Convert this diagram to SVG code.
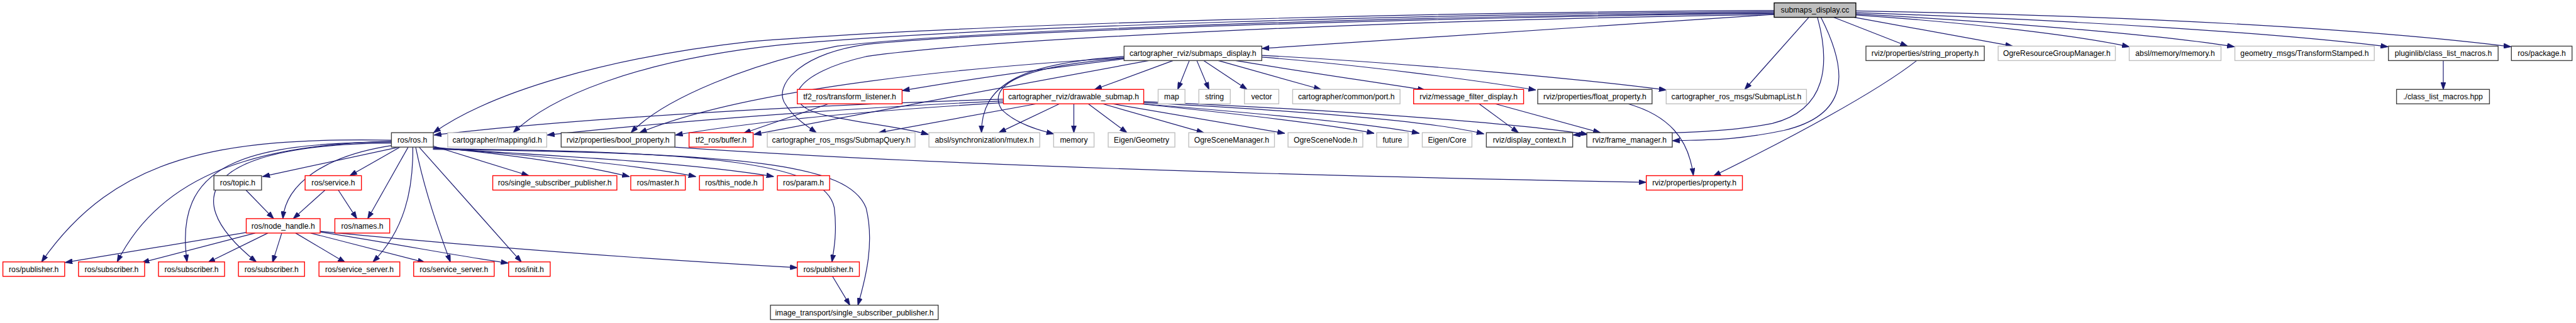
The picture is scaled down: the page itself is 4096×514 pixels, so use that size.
<svg xmlns="http://www.w3.org/2000/svg" width="4096" height="514" viewBox="0 0 4096 514">
<style>
.e path{fill:none;stroke:#191970;stroke-width:1.3;marker-end:url(#ah)}
.n rect{fill:#fff;stroke-width:1.5}
.k rect{stroke:#404040}
.r rect{stroke:#ff0000}
.g rect{stroke:#bfbfbf}
.root rect{fill:#bfbfbf;stroke:#000}
text{font-family:"Liberation Sans",Arial,sans-serif;font-size:13.3px;text-anchor:middle;fill:#000}
</style>
<defs>
<marker id="ah" viewBox="0 0 13 9" refX="12.5" refY="4.5" markerWidth="13" markerHeight="9" orient="auto" markerUnits="userSpaceOnUse"><path d="M0,0 L13,4.5 L0,9 z" fill="#191970" stroke="#191970" stroke-width="0.8"/></marker>
</defs>
<rect width="4096" height="514" fill="#fff"/>
<g transform="scale(0.918)">
<g id="connectors" class="e">
<path d="M3073,25 C 2750,45 2450,68 2186,84"/>
<path d="M3133,30 L3022,155"/>
<path d="M3176,30 L3304,80"/>
<path d="M3212,30 L3486,80"/>
<path d="M3214.5,26 C 3420,40 3600,62 3688,81"/>
<path d="M3214.5,24 C 3500,40 3750,62 3870,81"/>
<path d="M3214.5,22 C 3600,35 3950,58 4136,81"/>
<path d="M3214.5,19 C 3700,27 4100,50 4349,81"/>
<path d="M3148,30 C 3170,110 3165,190 3070,214 C 2960,236 2800,230 2725,234"/>
<path d="M3154,30 C 3205,130 3200,200 3090,226 C 3000,245 2950,242 2897,244"/>
<path d="M3073,18 C 2500,21 1700,40 1300,72 C 1050,100 850,160 751,230"/>
<path d="M3073,20 C 2500,24 1700,45 1350,78 C 1100,105 950,170 889,230"/>
<path d="M3073,22 C 2500,27 1700,50 1450,80 C 1300,110 1150,170 1093,230"/>
<path d="M3073,23 C 2500,30 1750,52 1500,77 C 1380,95 1340,150 1360,180 C 1375,205 1400,220 1414,230"/>
<path d="M3073,25 C 2400,35 1700,68 1500,98 C 1380,125 1340,180 1430,200 C 1500,215 1560,220 1608,233"/>
<path d="M2032,105 L1896,155"/>
<path d="M2060,105 L2040,155"/>
<path d="M2073,105 L2094,155"/>
<path d="M2085,105 L2160,155"/>
<path d="M2110,105 L2288,155"/>
<path d="M2140,105 C 2260,125 2380,142 2468,156"/>
<path d="M2185.5,99 C 2350,112 2550,138 2660,156"/>
<path d="M2185.5,96 C 2450,110 2750,138 2886,156"/>
<path d="M1947,102 C 1800,120 1650,142 1563,157"/>
<path d="M1947,100 C 1700,115 1300,150 1108,230"/>
<path d="M1947,98 C 1760,110 1700,150 1700,230"/>
<path d="M1947,101 C 1760,115 1710,150 1735,190 C 1760,215 1800,226 1825,232"/>
<path d="M1990,105 C 1800,140 1500,195 1306,233"/>
<path d="M1795,180 L1522,230"/>
<path d="M1835,180 L1730,230"/>
<path d="M1860,180 L1860,230"/>
<path d="M1885,180 L1952,230"/>
<path d="M1910,180 L2085,230"/>
<path d="M1927,180 L2225,231"/>
<path d="M1975,180 C 2150,198 2300,215 2380,231"/>
<path d="M1978,180 C 2200,198 2380,215 2458,231"/>
<path d="M1981,178 C 2250,192 2480,210 2570,232"/>
<path d="M1981,176 C 2300,190 2620,212 2750,233"/>
<path d="M1738,172 C 1400,182 1000,205 752,234"/>
<path d="M1738,175 C 1450,188 1150,212 948,234"/>
<path d="M1738,178 C 1500,192 1300,212 1170,234"/>
<path d="M1435,180 L1288,231"/>
<path d="M2562,180 L2630,230"/>
<path d="M2590,180 L2772,230"/>
<path d="M2820,180 C 2890,200 2925,240 2933,304"/>
<path d="M1168,255 C 1500,278 2000,300 2851,316"/>
<path d="M3320,105 C 3250,160 3100,240 2968,305"/>
<path d="M4232,105 L4232,155"/>
<path d="M678,243 C 380,238 200,270 72,454"/>
<path d="M678,245 C 450,250 280,300 203,454"/>
<path d="M678,246 C 420,248 300,285 324,454"/>
<path d="M678,248 C 380,250 290,330 444,454"/>
<path d="M691,255 L455,306"/>
<path d="M680,252 C 560,270 495,320 490,379"/>
<path d="M693,255 L606,304.5"/>
<path d="M707,255 L637,379"/>
<path d="M715,255 C 716,330 700,400 646,454"/>
<path d="M720,255 C 735,330 760,400 780,454"/>
<path d="M726,255 L903,454"/>
<path d="M750,253 L916,304.5"/>
<path d="M750,255 C 900,270 1000,285 1090,306"/>
<path d="M750,256 C 950,272 1100,285 1205,306"/>
<path d="M750,257 C 1000,272 1200,283 1340,306"/>
<path d="M750,258 C 1250,262 1430,285 1445,360 C 1450,400 1445,430 1441,454"/>
<path d="M750,259 C 1300,265 1470,285 1500,360 C 1515,420 1500,480 1486,529"/>
<path d="M427,403 L113,455"/>
<path d="M442,404 L246,455"/>
<path d="M464,404 L360,455"/>
<path d="M488,404 L472,455"/>
<path d="M512,404 L598,455"/>
<path d="M538,404 L736,455"/>
<path d="M554.5,402 C 700,425 800,445 880,456"/>
<path d="M554.5,401 C 800,425 1100,448 1381,464"/>
<path d="M426,329.5 L474,379"/>
<path d="M563,329.5 L508,379"/>
<path d="M586,329.5 L618,379"/>
<path d="M1442,479 L1472,529"/>
</g>
<g id="n_root" class="n root"><rect x="3073" y="5" width="141.5" height="25"/><text x="3143.75" y="22.3">submaps_display.cc</text></g>
<g id="n_sdh" class="n k"><rect x="1947" y="80" width="238.5" height="25"/><text x="2066.25" y="97.3">cartographer_rviz/submaps_display.h</text></g>
<g id="n_strprop" class="n k"><rect x="3232" y="80" width="205" height="25"/><text x="3334.5" y="97.3">rviz/properties/string_property.h</text></g>
<g id="n_ogrergm" class="n g"><rect x="3461" y="80" width="203" height="25"/><text x="3562.5" y="97.3">OgreResourceGroupManager.h</text></g>
<g id="n_abslmem" class="n g"><rect x="3688" y="80" width="159" height="25"/><text x="3767.5" y="97.3">absl/memory/memory.h</text></g>
<g id="n_geom" class="n g"><rect x="3871" y="80" width="241.5" height="25"/><text x="3991.75" y="97.3">geometry_msgs/TransformStamped.h</text></g>
<g id="n_plugin" class="n k"><rect x="4137" y="80" width="190" height="25"/><text x="4232" y="97.3">pluginlib/class_list_macros.h</text></g>
<g id="n_rospkg" class="n k"><rect x="4350" y="80" width="105" height="25"/><text x="4402.5" y="97.3">ros/package.h</text></g>
<g id="n_tflisten" class="n r"><rect x="1381" y="155" width="181.5" height="25"/><text x="1471.75" y="172.3">tf2_ros/transform_listener.h</text></g>
<g id="n_drawable" class="n r"><rect x="1738" y="155" width="243" height="25"/><text x="1859.5" y="172.3">cartographer_rviz/drawable_submap.h</text></g>
<g id="n_map" class="n g"><rect x="2006" y="155" width="46.5" height="25"/><text x="2029.25" y="172.3">map</text></g>
<g id="n_string" class="n g"><rect x="2076.5" y="155" width="54.5" height="25"/><text x="2103.75" y="172.3">string</text></g>
<g id="n_vector" class="n g"><rect x="2155.5" y="155" width="59.5" height="25"/><text x="2185.25" y="172.3">vector</text></g>
<g id="n_port" class="n g"><rect x="2239" y="155" width="186" height="25"/><text x="2332" y="172.3">cartographer/common/port.h</text></g>
<g id="n_mfd" class="n r"><rect x="2448.5" y="155" width="190.5" height="25"/><text x="2543.75" y="172.3">rviz/message_filter_display.h</text></g>
<g id="n_floatprop" class="n k"><rect x="2663.5" y="155" width="198" height="25"/><text x="2762.5" y="172.3">rviz/properties/float_property.h</text></g>
<g id="n_submaplist" class="n g"><rect x="2886" y="155" width="243" height="25"/><text x="3007.5" y="172.3">cartographer_ros_msgs/SubmapList.h</text></g>
<g id="n_clmhpp" class="n k"><rect x="4151" y="155" width="161" height="25"/><text x="4231.5" y="172.3">./class_list_macros.hpp</text></g>
<g id="n_rosh" class="n k"><rect x="678" y="230" width="72.5" height="25"/><text x="714.25" y="247.3">ros/ros.h</text></g>
<g id="n_id" class="n g"><rect x="775.5" y="230" width="171.5" height="25"/><text x="861.25" y="247.3">cartographer/mapping/id.h</text></g>
<g id="n_boolprop" class="n k"><rect x="972" y="230" width="197" height="25"/><text x="1070.5" y="247.3">rviz/properties/bool_property.h</text></g>
<g id="n_buffer" class="n r"><rect x="1193.5" y="230" width="111" height="25"/><text x="1249" y="247.3">tf2_ros/buffer.h</text></g>
<g id="n_submapquery" class="n g"><rect x="1329" y="230" width="256" height="25"/><text x="1457" y="247.3">cartographer_ros_msgs/SubmapQuery.h</text></g>
<g id="n_mutex" class="n g"><rect x="1609" y="230" width="192" height="25"/><text x="1705" y="247.3">absl/synchronization/mutex.h</text></g>
<g id="n_memory" class="n g"><rect x="1825" y="230" width="70" height="25"/><text x="1860" y="247.3">memory</text></g>
<g id="n_eigengeo" class="n g"><rect x="1919.5" y="230" width="115.5" height="25"/><text x="1977.25" y="247.3">Eigen/Geometry</text></g>
<g id="n_ogresm" class="n g"><rect x="2059" y="230" width="148.5" height="25"/><text x="2133.25" y="247.3">OgreSceneManager.h</text></g>
<g id="n_ogresn" class="n g"><rect x="2231" y="230" width="129.5" height="25"/><text x="2295.75" y="247.3">OgreSceneNode.h</text></g>
<g id="n_future" class="n g"><rect x="2384.5" y="230" width="54.5" height="25"/><text x="2411.75" y="247.3">future</text></g>
<g id="n_eigencore" class="n g"><rect x="2463.5" y="230" width="86" height="25"/><text x="2506.5" y="247.3">Eigen/Core</text></g>
<g id="n_dispctx" class="n k"><rect x="2574.5" y="230" width="149.5" height="25"/><text x="2649.25" y="247.3">rviz/display_context.h</text></g>
<g id="n_framemgr" class="n k"><rect x="2748.5" y="230" width="148" height="25"/><text x="2822.5" y="247.3">rviz/frame_manager.h</text></g>
<g id="n_topic" class="n k"><rect x="370.5" y="304.5" width="82.5" height="25"/><text x="411.75" y="321.8">ros/topic.h</text></g>
<g id="n_service" class="n r"><rect x="528.5" y="304.5" width="97.5" height="25"/><text x="577.25" y="321.8">ros/service.h</text></g>
<g id="n_ssp" class="n r"><rect x="853.5" y="304.5" width="215" height="25"/><text x="961" y="321.8">ros/single_subscriber_publisher.h</text></g>
<g id="n_master" class="n r"><rect x="1092.5" y="304.5" width="94.5" height="25"/><text x="1139.75" y="321.8">ros/master.h</text></g>
<g id="n_thisnode" class="n r"><rect x="1211.5" y="304.5" width="110.5" height="25"/><text x="1266.75" y="321.8">ros/this_node.h</text></g>
<g id="n_param" class="n r"><rect x="1346.5" y="304.5" width="90.5" height="25"/><text x="1391.75" y="321.8">ros/param.h</text></g>
<g id="n_property" class="n r"><rect x="2851.5" y="304.5" width="166.5" height="25"/><text x="2934.75" y="321.8">rviz/properties/property.h</text></g>
<g id="n_nh" class="n r"><rect x="426.5" y="379" width="128" height="25"/><text x="490.5" y="396.3">ros/node_handle.h</text></g>
<g id="n_names" class="n r"><rect x="580" y="379" width="95" height="25"/><text x="627.5" y="396.3">ros/names.h</text></g>
<g id="n_pub1" class="n r"><rect x="5" y="454" width="107" height="25"/><text x="58.5" y="471.3">ros/publisher.h</text></g>
<g id="n_sub1" class="n r"><rect x="136" y="454" width="114.5" height="25"/><text x="193.25" y="471.3">ros/subscriber.h</text></g>
<g id="n_sub2" class="n r"><rect x="274.5" y="454" width="114.5" height="25"/><text x="331.75" y="471.3">ros/subscriber.h</text></g>
<g id="n_sub3" class="n r"><rect x="413" y="454" width="114.5" height="25"/><text x="470.25" y="471.3">ros/subscriber.h</text></g>
<g id="n_ss1" class="n r"><rect x="552.5" y="454" width="140" height="25"/><text x="622.5" y="471.3">ros/service_server.h</text></g>
<g id="n_ss2" class="n r"><rect x="716.5" y="454" width="139.5" height="25"/><text x="786.25" y="471.3">ros/service_server.h</text></g>
<g id="n_init" class="n r"><rect x="881" y="454" width="72" height="25"/><text x="917" y="471.3">ros/init.h</text></g>
<g id="n_pub2" class="n r"><rect x="1381" y="454" width="107.5" height="25"/><text x="1434.75" y="471.3">ros/publisher.h</text></g>
<g id="n_itssp" class="n k"><rect x="1334.5" y="529" width="290.5" height="25"/><text x="1479.75" y="546.3">image_transport/single_subscriber_publisher.h</text></g>
</g>
</svg>
